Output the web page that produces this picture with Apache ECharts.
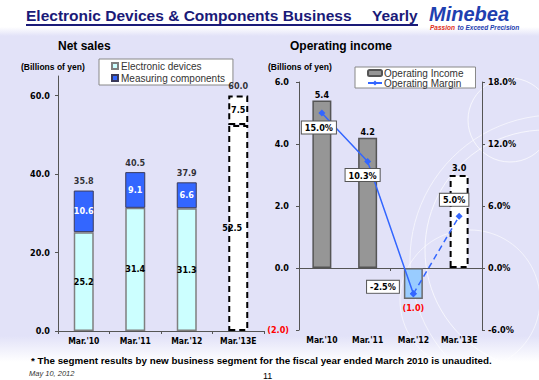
<!DOCTYPE html>
<html><head><meta charset="utf-8">
<script src="https://cdn.jsdelivr.net/npm/echarts@6/dist/echarts.min.js"></script>
<style>
html,body{margin:0;padding:0;}
body{width:539px;height:380px;overflow:hidden;background:linear-gradient(to bottom,#ffffff 0px,#ffffff 27px,#E2E2F8 36px,#E2E2F8 336px,#ffffff 362px,#ffffff 380px);}
#c{width:539px;height:380px;}
</style></head><body><div id="c"></div>
<script>
// ---- data ----
const categories = ["Mar.'10", "Mar.'11", "Mar.'12", "Mar.'13E"];
const electronicDevices = [25.2, 31.4, 31.3, 52.5];
const measuringComponents = [10.6, 9.1, 6.6, 7.5];
const netSalesTotals = [35.8, 40.5, 37.9, 60.0];
const operatingIncome = [5.4, 4.2, -1.0, 3.0];
const operatingMargin = [15.0, 10.3, -2.5, 5.0];
const salesTicks = [0, 20, 40, 60];
const estimateIndex = 3;

// ---- styles ----
const NUM_FONT = "'DejaVu Sans Condensed','DejaVu Sans',sans-serif";
const TXT_FONT = "'Liberation Sans',Arial,sans-serif";
const dashedBox = {color: '#ffffff', borderColor: '#000000', borderWidth: 2, borderType: [6, 4]};
const numLabel = {fontFamily: NUM_FONT, fontWeight: 'bold', fontSize: 9, color: '#000'};
const fmt1 = v => Number(v).toFixed(1);
const paren = v => v < 0 ? '(' + Math.abs(v).toFixed(1) + ')' : Number(v).toFixed(1);

const edData = electronicDevices.map((v, i) => i === estimateIndex
  ? {value: v, itemStyle: dashedBox, label: {offset: [-6, 0]}} : v);
const mcData = measuringComponents.map((v, i) => i === estimateIndex
  ? {value: v, itemStyle: dashedBox, label: {color: '#000'}} : v);

const incData = operatingIncome.map((v, i) => {
  if (i === estimateIndex) return {value: v, itemStyle: dashedBox, label: {distance: 3}};
  if (v < 0) return {value: v, itemStyle: {color: '#99CCFF', borderColor: '#6b6b6b', borderWidth: 1.5},
    label: {position: 'bottom', color: '#FF0000', distance: 4}};
  return v;
});

const marginLabelPlace = [
  {position: 'bottom', offset: [-3, 0]},
  {position: 'bottom', offset: [-5, -1]},
  {position: 'left', offset: [-6, -7]},
  {position: 'top', offset: [-5, -2]}
];
const boxLabel = {show: true, fontFamily: NUM_FONT, fontWeight: 'bold', fontSize: 9, color: '#000',
  backgroundColor: '#fff', borderColor: '#555', borderWidth: 1, padding: [2, 3, 1, 3],
  formatter: p => fmt1(p.value) + '%'};
const solidMargin = operatingMargin.map((v, i) => i < estimateIndex
  ? {value: v, label: Object.assign({}, boxLabel, marginLabelPlace[i])} : '-');
const dashedMargin = operatingMargin.map((v, i) => i >= estimateIndex - 1
  ? (i === estimateIndex ? {value: v, label: Object.assign({}, boxLabel, marginLabelPlace[i])} : v) : '-');

const axisLineStyle = {lineStyle: {color: '#555', width: 1}};
const axisTickStyle = {show: true, length: 3, lineStyle: {color: '#555'}};
const catLabel = {interval: 0, fontFamily: NUM_FONT, fontWeight: 'bold', fontSize: 8.5, color: '#000'};
const TF = (w, s, style) => (style || '') + ' ' + w + ' ' + s + "px 'Liberation Sans',Arial,sans-serif";

const chart = echarts.init(document.getElementById('c'), null, {renderer: 'svg'});
chart.setOption({
  animation: false,
  backgroundColor: 'transparent',
  grid: [
    {left: 58, top: 76, width: 206, height: 255},
    {left: 299, top: 82, width: 183, height: 248}
  ],
  legend: [
    {data: ['Electronic devices', 'Measuring components'], orient: 'vertical', left: 99, top: 59,
      padding: [2, 8, 2, 12], itemGap: 2, itemWidth: 6, itemHeight: 6, icon: 'rect',
      backgroundColor: '#fff', borderColor: '#888', borderWidth: 1,
      textStyle: {fontFamily: TXT_FONT, fontSize: 10, color: '#333', padding: [0, 0, 0, -2]}},
    {data: ['Operating Income', 'Operating Margin'], orient: 'vertical', left: 355, top: 67,
      padding: [1, 12, 0, 12], itemGap: 0, itemWidth: 14, itemHeight: 6,
      backgroundColor: '#fff', borderColor: '#888', borderWidth: 1,
      textStyle: {fontFamily: TXT_FONT, fontSize: 10, color: '#333', padding: [0, 0, 0, -3]}}
  ],
  xAxis: [
    {type: 'category', gridIndex: 0, data: categories, axisLine: axisLineStyle,
      axisTick: axisTickStyle, axisLabel: Object.assign({margin: 5}, catLabel)},
    {type: 'category', gridIndex: 1, data: categories, position: 'bottom',
      axisLine: {show: true, onZero: true, lineStyle: {color: '#555'}},
      axisTick: axisTickStyle, axisLabel: {show: false}},
    {type: 'category', gridIndex: 1, data: categories, position: 'bottom',
      axisLine: {show: false, onZero: false}, axisTick: {show: false},
      axisLabel: Object.assign({margin: 5}, catLabel)}
  ],
  yAxis: [
    {type: 'value', gridIndex: 0, min: 0, max: 65, interval: 20, splitLine: {show: false},
      axisLine: {show: true, lineStyle: {color: '#555'}},
      axisTick: {show: true, length: 3, customValues: salesTicks, lineStyle: {color: '#555'}},
      axisLabel: {customValues: salesTicks, formatter: fmt1, margin: 8,
        fontFamily: NUM_FONT, fontWeight: 'bold', fontSize: 9, color: '#000'}},
    {type: 'value', gridIndex: 1, min: -2, max: 6, interval: 2, splitLine: {show: false},
      axisLine: {show: true, lineStyle: {color: '#555'}}, axisTick: axisTickStyle,
      axisLabel: {formatter: paren, margin: 10, fontFamily: NUM_FONT, fontWeight: 'bold', fontSize: 9,
        color: v => v < 0 ? '#FF0000' : '#000'}},
    {type: 'value', gridIndex: 1, position: 'right', min: -6, max: 18, interval: 6, splitLine: {show: false},
      axisLine: {show: true, lineStyle: {color: '#555'}}, axisTick: axisTickStyle,
      axisLabel: {formatter: v => fmt1(v) + '%', margin: 6, fontFamily: NUM_FONT, fontWeight: 'bold',
        fontSize: 9, color: '#000'}}
  ],
  series: [
    {name: 'Electronic devices', type: 'bar', stack: 'sales', xAxisIndex: 0, yAxisIndex: 0,
      barWidth: 20, data: edData,
      itemStyle: {color: '#CCFFFF', borderColor: '#7f7f7f', borderWidth: 1.5},
      label: Object.assign({show: true, position: 'inside', formatter: p => fmt1(p.value)}, numLabel)},
    {name: 'Measuring components', type: 'bar', stack: 'sales', xAxisIndex: 0, yAxisIndex: 0,
      barWidth: 20, data: mcData,
      itemStyle: {color: '#3366FF', borderColor: '#3a3a5a', borderWidth: 1},
      label: Object.assign({show: true, position: 'inside', formatter: p => fmt1(p.value)}, numLabel, {color: '#fff'})},
    {name: 'Net sales total', type: 'scatter', xAxisIndex: 0, yAxisIndex: 0, symbolSize: 0,
      data: netSalesTotals, silent: true, z: 10,
      label: Object.assign({show: true, position: 'top', distance: 5, formatter: p => fmt1(p.value)}, numLabel)},
    {name: 'Operating Income', type: 'bar', xAxisIndex: 1, yAxisIndex: 1, barWidth: 19, data: incData,
      itemStyle: {color: '#969696', borderColor: '#555', borderWidth: 1.5},
      label: Object.assign({show: true, position: 'top', distance: 1, formatter: p => paren(p.value)}, numLabel)},
    {name: 'Operating Margin', type: 'line', xAxisIndex: 1, yAxisIndex: 2, data: solidMargin,
      symbol: 'diamond', symbolSize: 7, lineStyle: {color: '#3366FF', width: 1.5},
      itemStyle: {color: '#3366FF'}, z: 5},
    {name: 'Operating Margin (E)', type: 'line', xAxisIndex: 1, yAxisIndex: 2, data: dashedMargin,
      symbol: 'diamond', symbolSize: 7, lineStyle: {color: '#3366FF', width: 1.5, type: [6, 4]},
      itemStyle: {color: '#3366FF'}, z: 5}
  ],
  graphic: [
    {type: 'circle', silent: true, z: -10, shape: {cx: 510, cy: 120, r: 42}, style: {fill: 'none', stroke: 'rgba(255,255,255,0.7)', lineWidth: 1}},
    {type: 'circle', silent: true, z: -10, shape: {cx: 545, cy: 250, r: 120}, style: {fill: 'none', stroke: 'rgba(255,255,255,0.7)', lineWidth: 1}},
    {type: 'circle', silent: true, z: -10, shape: {cx: 555, cy: 260, r: 145}, style: {fill: 'none', stroke: 'rgba(255,255,255,0.6)', lineWidth: 1}},
    {type: 'circle', silent: true, z: -10, shape: {cx: 470, cy: 300, r: 70}, style: {fill: 'none', stroke: 'rgba(255,255,255,0.6)', lineWidth: 1}},
    {type: 'text', style: {x: 26, y: 15, text: 'Electronic Devices & Components Business', font: TF('bold', 15.5), fill: '#1A1A78', verticalAlign: 'middle'}},
    {type: 'text', style: {x: 372, y: 15, text: 'Yearly', font: TF('bold', 15.5), fill: '#1A1A78', verticalAlign: 'middle'}},
    {type: 'rect', shape: {x: 26, y: 24, width: 392, height: 2}, style: {fill: '#1A1A78'}},
    {type: 'text', style: {x: 429, y: 14, text: 'Minebea', font: TF('bold', 20, 'italic'), fill: '#1E40B0', verticalAlign: 'middle'}},
    {type: 'text', style: {x: 430, y: 27.5, text: 'Passion', font: TF('bold', 6.5, 'italic'), fill: '#E03020', verticalAlign: 'middle'}},
    {type: 'text', style: {x: 457.5, y: 27.5, text: 'to Exceed Precision', font: TF('bold', 6.5, 'italic'), fill: '#1E40B0', verticalAlign: 'middle'}},
    {type: 'text', style: {x: 58, y: 46, text: 'Net sales', font: TF('bold', 12), fill: '#000', verticalAlign: 'middle'}},
    {type: 'text', style: {x: 290, y: 46, text: 'Operating income', font: TF('bold', 12), fill: '#000', verticalAlign: 'middle'}},
    {type: 'text', style: {x: 21, y: 67, text: '(Billions of yen)', font: TF('bold', 8.5), fill: '#000', verticalAlign: 'middle'}},
    {type: 'text', style: {x: 268, y: 67, text: '(Billions of yen)', font: TF('bold', 8.5), fill: '#000', verticalAlign: 'middle'}},
    {type: 'text', style: {x: 31, y: 360, text: '* The segment results by new business segment for the fiscal year ended March 2010 is unaudited.', font: TF('bold', 9.8), fill: '#000', verticalAlign: 'middle'}},
    {type: 'text', style: {x: 29, y: 373, text: 'May 10, 2012', font: TF('normal', 7.5, 'italic'), fill: '#333', verticalAlign: 'middle'}},
    {type: 'text', style: {x: 263, y: 376, text: '11', font: TF('normal', 9), fill: '#000', verticalAlign: 'middle'}}
  ]
});
</script></body></html>
